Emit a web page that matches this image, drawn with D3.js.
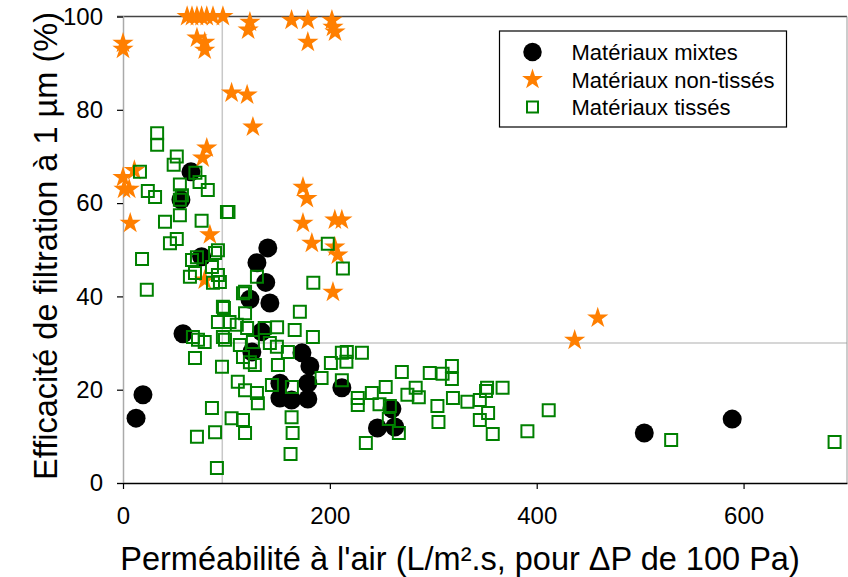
<!DOCTYPE html>
<html lang="fr">
<head>
<meta charset="UTF-8">
<script src="https://cdn.jsdelivr.net/npm/d3@7"></script>
<title>Efficacité de filtration vs perméabilité</title>
<style>
  body { margin: 0; background: #fff; }
  svg { font-family: "Liberation Sans", Arial, sans-serif; }
</style>
</head>
<body>
<div id="chart"></div>
<script>
// Matériaux mixtes : [perméabilité, efficacité]
var mixtes = [
  [12.6,13.9],[19.3,18.9],[58,32],[65.7,66.7],[56,60.7],[76,48.5],[140,50.4],[129.5,47.2],
  [138,43],[122.7,39.4],[142,38.6],[134,32.4],[124.6,28.1],[173,27.9],[180.7,25.1],
  [151.7,21.4],[151.7,18.2],[163,17.8],[178.7,21.4],[178.7,18],[211.6,20.4],[260,15.9],
  [246,11.8],[262.8,12],[504,10.7],[589,13.7]
];

// Matériaux non-tissés
var nonTisses = [
  [62,100],[66.7,100],[71.5,100],[76,100],[81,100],[87,100],[96.6,100],
  [0,94.3],[0,93],[71.5,95.4],[79,94.5],[79,92.8],[122.7,98.8],[121,97.1],[105,83.6],
  [120,83.2],[125.6,76.3],[163,99.2],[178.7,99.2],[202,99.2],[203,97.7],[205,96.7],[178.7,94.5],
  [0,65.5],[1,63],[6,63],[11,67],[7,55.7],[81,71.8],[77,69.7],[84,53.2],[79,43.5],
  [174,63.4],[177.8,61],[174,55.7],[204.8,56.4],[211.6,56.4],[182.6,51.4],[204.8,50.6],
  [207.7,48.9],[203,40.9],[436.7,30.6],[459,35.4]
];

// Matériaux tissés
var tisses = [
  [33,75],[33,72.5],[52,70],[49,68.2],[16.4,66.7],[24,62.6],[31,61.3],[55,64],[57,61.7],
  [55,60.7],[70,66.5],[74,64.5],[82,62.8],[55,57.4],[40.6,56],[76,56.2],[100.5,58.1],
  [102,58.1],[45.4,51.4],[52,52.3],[18.4,48],[23,41.4],[66.7,47.8],[71.5,48.4],[64.7,44.2],
  [69.6,45],[89,49.3],[91.8,49.9],[86,46.3],[91.8,44.6],[87,42.9],[93.7,43.1],[116,40.7],
  [118,41],[96.6,37.8],[118,36.4],[91.8,34.5],[103,34.5],[110,33.9],[120,33.2],[137,33.2],
  [149,33.4],[166,32.8],[171,36.7],[184,42.9],[67.6,31.3],[72.5,30.7],[79,30.2],[96.6,31.3],
  [98.6,30.7],[113,29.6],[125.6,30.2],[142,30],[148.8,29.2],[159.4,28.1],[183.6,31.3],
  [69.6,26.8],[116,27],[122.7,25.9],[127.5,25.3],[149.8,25.3],[95.7,24.9],[111,21.7],
  [118,19.9],[129.5,19.3],[130.4,17.1],[144,21],[163.3,20.6],[192,22.5],[201,25.7],
  [211.6,27.9],[211.6,22],[86,16.1],[105,13.9],[116,13.5],[89,10.9],[118,10.7],[71.5,9.9],
  [163,14.1],[164,10.7],[90.8,3.2],[162,6.2],[216.4,28.1],[231,27.9],[216,26],
  [129.5,44.2],[97.6,37.5],[198,51.3],[212.6,46],
  [269.6,23.8],[296.6,23.6],[309,23.4],[318,25.1],[318,22.3],[227,18.2],[227,16.7],
  [240.6,19.3],[254,20.6],[248,16.9],[258,16.5],[275,18.9],[283,20.4],[286,18.4],[304,16.5],
  [305,13.1],[319,18.2],[333,17.4],[345,17.8],[352,20.4],[367,20.4],[351,19.7],[353,15],
  [345,13.5],[357.5,10.5],[257,13.7],[266.7,10.7],[234.8,8.6],
  [411.6,15.6],[391,11.1],[530,9.2],[688,8.8]
];

var xTicks = [0, 200, 400, 600];
var yTicks = [0, 20, 40, 60, 80, 100];
var refX = 96, refY = 30;   // lignes de repère grises

var legendLabels = ["Matériaux mixtes", "Matériaux non-tissés", "Matériaux tissés"];

var W = 848, H = 577;
var margin = {top: 16.5, right: 1, bottom: 94, left: 123};

var x = d3.scaleLinear().domain([0, 700]).range([margin.left, W - margin.right]);
var y = d3.scaleLinear().domain([0, 100]).range([H - margin.bottom, margin.top]);

var orange = "#ff7f00", green = "#008000";

var svg = d3.select("#chart").append("svg")
  .attr("width", W).attr("height", H);

// lignes de repère
svg.append("line")
  .attr("x1", x(refX)).attr("x2", x(refX))
  .attr("y1", y(100)).attr("y2", y(0))
  .attr("stroke", "#c8c8c8").attr("stroke-width", 1.5);
svg.append("line")
  .attr("x1", x(refX)).attr("x2", x(700))
  .attr("y1", y(refY)).attr("y2", y(refY))
  .attr("stroke", "#c8c8c8").attr("stroke-width", 1.5);

// cadre haut / droite
svg.append("line")
  .attr("x1", x(0) - 6).attr("x2", x(700))
  .attr("y1", y(100)).attr("y2", y(100))
  .attr("stroke", "#444").attr("stroke-width", 1.5);
svg.append("line")
  .attr("x1", x(700)).attr("x2", x(700))
  .attr("y1", y(100)).attr("y2", y(0))
  .attr("stroke", "#999").attr("stroke-width", 1);

// axes
var yAxis = svg.append("g")
  .attr("transform", "translate(" + x(0) + ",0)")
  .call(d3.axisLeft(y).tickValues(yTicks).tickSize(6).tickPadding(14));
yAxis.select(".domain").attr("stroke", "#aaa").attr("stroke-width", 1.5);
yAxis.selectAll(".tick line").attr("stroke", "#000").attr("stroke-width", 1.2);
yAxis.selectAll("text").attr("font-size", 24).attr("fill", "#000")
  .attr("font-family", "Liberation Sans, Arial, sans-serif");

var xAxis = svg.append("g")
  .attr("transform", "translate(0," + y(0) + ")")
  .call(d3.axisBottom(x).tickValues(xTicks).tickSize(6).tickSizeOuter(0).tickPadding(18));
xAxis.select(".domain").attr("stroke", "#000").attr("stroke-width", 1.5);
xAxis.selectAll(".tick line").attr("stroke", "#000").attr("stroke-width", 1.2);
xAxis.selectAll("text").attr("font-size", 24).attr("fill", "#000")
  .attr("font-family", "Liberation Sans, Arial, sans-serif");

// points
svg.append("g").selectAll("path")
  .data(mixtes).enter().append("path")
  .attr("transform", function(d) { return "translate(" + x(d[0]) + "," + y(d[1]) + ")"; })
  .attr("d", d3.symbol().type(d3.symbolCircle).size(283))
  .attr("fill", "#000");

svg.append("g").selectAll("path")
  .data(nonTisses).enter().append("path")
  .attr("transform", function(d) { return "translate(" + x(d[0]) + "," + y(d[1]) + ")"; })
  .attr("d", d3.symbol().type(d3.symbolStar).size(140))
  .attr("fill", orange);

svg.append("g").selectAll("path")
  .data(tisses).enter().append("path")
  .attr("transform", function(d) { return "translate(" + x(d[0]) + "," + y(d[1]) + ")"; })
  .attr("d", d3.symbol().type(d3.symbolSquare).size(144))
  .attr("fill", "none").attr("stroke", green).attr("stroke-width", 2);

// légende
var lg = svg.append("g").attr("transform", "translate(499.5,31)");
lg.append("rect").attr("width", 287).attr("height", 96)
  .attr("fill", "#fff").attr("stroke", "#000").attr("stroke-width", 1.2);
var sym = [
  {t: d3.symbolCircle, s: 270, fill: "#000", stroke: "none"},
  {t: d3.symbolStar, s: 135, fill: orange, stroke: "none"},
  {t: d3.symbolSquare, s: 121, fill: "none", stroke: green}
];
legendLabels.forEach(function(lab, i) {
  var cy = 21 + i * 27.5;
  lg.append("path")
    .attr("transform", "translate(33," + cy + ")")
    .attr("d", d3.symbol().type(sym[i].t).size(sym[i].s))
    .attr("fill", sym[i].fill).attr("stroke", sym[i].stroke).attr("stroke-width", 2);
  lg.append("text")
    .attr("x", 72).attr("y", cy + 8)
    .attr("font-size", 22)
    .text(lab);
});

// titres des axes
svg.append("text")
  .attr("x", 460).attr("y", 570)
  .attr("text-anchor", "middle")
  .attr("font-size", 32.5)
  .text("Perméabilité à l'air (L/m².s, pour ΔP de 100 Pa)");

svg.append("text")
  .attr("transform", "translate(57," + 246 + ")rotate(-90)")
  .attr("text-anchor", "middle")
  .attr("font-size", 32.5)
  .text("Efficacité de filtration à 1 µm (%)");
</script>
</body>
</html>
